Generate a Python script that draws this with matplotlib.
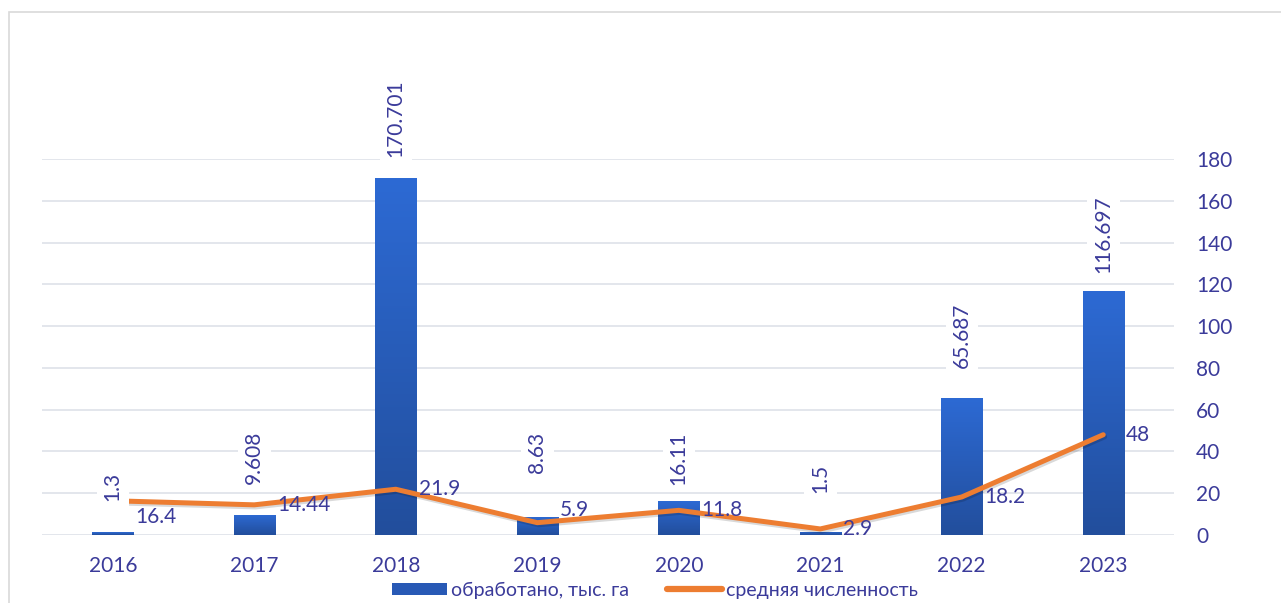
import numpy as np
import matplotlib.pyplot as plt
from matplotlib.colors import LinearSegmentedColormap
from matplotlib.patches import Rectangle, Patch
from matplotlib.lines import Line2D
import matplotlib.patheffects as pe

plt.rcParams['font.family'] = ['Lato', 'Noto Sans', 'DejaVu Sans']

### Data
years = ['2016', '2017', '2018', '2019', '2020', '2021', '2022', '2023']
treated = [1.3, 9.608, 170.701, 8.63, 16.11, 1.5, 65.687, 116.697]   # обработано, тыс. га
avg_count = [16.4, 14.44, 21.9, 5.9, 11.8, 2.9, 18.2, 48]           # средняя численность
treated_labels = ['1.3', '9.608', '170.701', '8.63', '16.11', '1.5', '65.687', '116.697']
count_labels = ['16.4', '14.44', '21.9', '5.9', '11.8', '2.9', '18.2', '48']
yticks = [0, 20, 40, 60, 80, 100, 120, 140, 160, 180]

# label offsets in pixels (as placed in the original)
bar_gap_px = [31, 31, 21, 44, 16, 39, 30, 18]
line_dy_px = [-16, 0, 0, 13, 0, 0, 0, 0]

txt_color = '#3B3B9A'
orange = '#ED7D31'
px = 72 / 100.0  # pixels -> points at dpi 100
fs = 15

fig = plt.figure(figsize=(12.81, 6.03), dpi=100)
fig.patches.append(Rectangle((9 / 1281, -0.05), 1.2, 1 - 12 / 603 + 0.05, transform=fig.transFigure,
                             fill=False, edgecolor='#D9D9D9', linewidth=1.2))
ax = fig.add_axes([42 / 1281, (603 - 535) / 603, (1174 - 42) / 1281, (535 - 159) / 603])

x = np.arange(len(years))

### bars with vertical gradient
cmap = LinearSegmentedColormap.from_list('barblue', ['#224E9C', '#2D6AD4'])
grad = np.linspace(0, 1, 256).reshape(-1, 1)
bars = ax.bar(x, treated, width=0.29, color='none', edgecolor='none', zorder=2)
for b in bars:
    x0, w, h = b.get_x(), b.get_width(), b.get_height()
    im = ax.imshow(grad, cmap=cmap, origin='lower', aspect='auto',
                   extent=[x0, x0 + w, 0, h], zorder=2)
    im.set_clip_path(b)

### line
ax.plot(x, avg_count, color=orange, linewidth=3.6, solid_capstyle='round',
        solid_joinstyle='round', zorder=3,
        path_effects=[pe.SimpleLineShadow(offset=(1, -1.5), alpha=0.15), pe.Normal()])

### labels
for i in range(len(years)):
    ax.annotate(treated_labels[i], (x[i], treated[i]), xytext=(0, bar_gap_px[i] * px),
                textcoords='offset points', rotation=90, ha='center', va='bottom',
                fontsize=fs, color=txt_color, zorder=5, annotation_clip=False,
                bbox=dict(boxstyle='square,pad=0.3', fc='white', ec='none'))
    ax.annotate(count_labels[i], (x[i], avg_count[i]), xytext=(23 * px, line_dy_px[i] * px),
                textcoords='offset points', ha='left', va='center',
                fontsize=fs, color=txt_color, zorder=5, annotation_clip=False)

### axes styling
ax.set_xlim(-0.5, len(years) - 0.5)
ax.set_ylim(0, 180)
ax.set_xticks(x)
ax.set_xticklabels(years)
ax.set_yticks(yticks)
ax.yaxis.tick_right()
ax.tick_params(axis='both', length=0, labelsize=fs, labelcolor=txt_color)
ax.tick_params(axis='y', pad=22 * px)
ax.tick_params(axis='x', pad=21 * px)
ax.grid(axis='y', color='#E1E4EA', linewidth=1.3)
ax.set_axisbelow(True)
for s in ax.spines.values():
    s.set_visible(False)

handles = [Patch(facecolor='#2859B5', edgecolor='none'),
           Line2D([0], [0], color=orange, linewidth=4.5, solid_capstyle='round')]
fig.legend(handles, ['обработано, тыс. га', 'средняя численность'], loc='center',
           bbox_to_anchor=(655 / 1281, 13 / 603), ncol=2, frameon=False, fontsize=14,
           labelcolor=txt_color, handlelength=2.8, handleheight=0.6, handletextpad=0.2,
           columnspacing=2.0)

plt.savefig('out.png', dpi=100)
